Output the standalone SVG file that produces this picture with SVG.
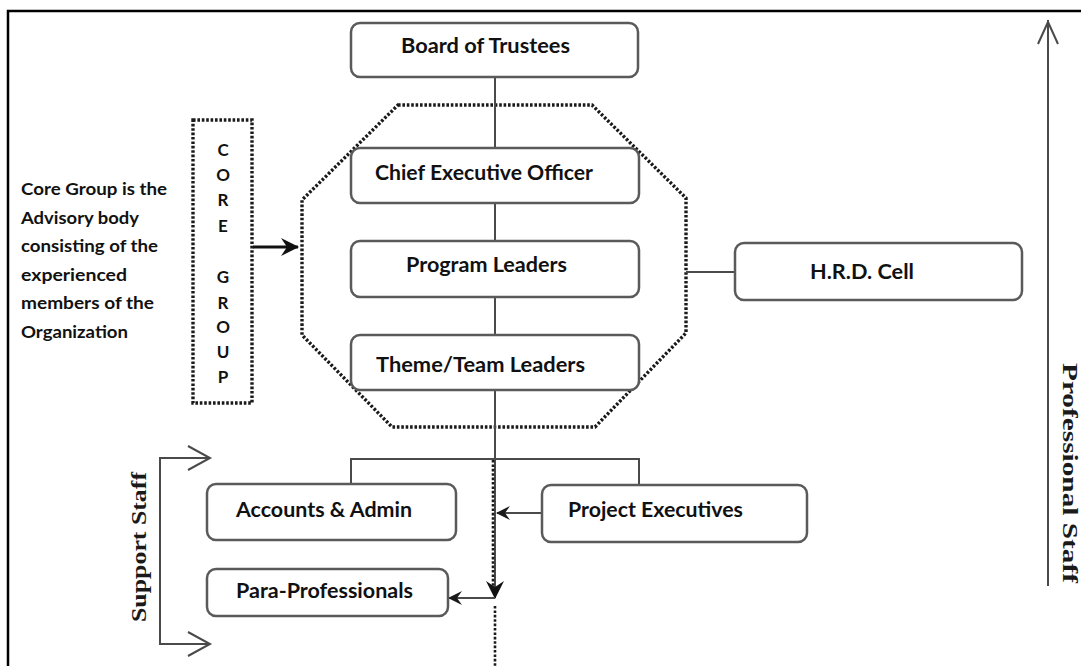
<svg xmlns="http://www.w3.org/2000/svg" width="1081" height="666" viewBox="0 0 1081 666">
  <style>
    .box { fill: #ffffff; stroke: #5a5a5a; stroke-width: 2.5; }
    .lbl { font-family: Lato, "Open Sans", "Liberation Sans", sans-serif; font-weight: bold; font-size: 20.5px; fill: #111111; }
    .note { font-family: Lato, "Open Sans", "Liberation Sans", sans-serif; font-weight: bold; font-size: 17.5px; fill: #111111; }
    .letter { font-family: Lato, "Open Sans", "Liberation Sans", sans-serif; font-weight: bold; font-size: 17px; fill: #111111; text-anchor: middle; }
    .side { font-family: "Liberation Serif", "DejaVu Serif", serif; font-weight: bold; font-size: 20px; fill: #1a1a1a; }
    .dots { fill: none; stroke: #1a1a1a; stroke-width: 3.4; stroke-dasharray: 2.6 1.8; }
    .wire { fill: none; stroke: #4a4a4a; stroke-width: 2; }
    .chev { fill: none; stroke: #4a4a4a; stroke-width: 2; stroke-linejoin: miter; }
  </style>
  <defs>
    <marker id="head" viewBox="0 0 14 14" refX="13" refY="7" markerWidth="14" markerHeight="14" markerUnits="userSpaceOnUse" orient="auto">
      <path d="M0,0 L14,7 L0,14 L5,7 Z" fill="#1a1a1a"/>
    </marker>
    <marker id="headBig" viewBox="0 0 18 18" refX="17" refY="9" markerWidth="18" markerHeight="18" markerUnits="userSpaceOnUse" orient="auto">
      <path d="M0,0 L18,9 L0,18 L6,9 Z" fill="#111111"/>
    </marker>
  </defs>

  <!-- page frame -->
  <path d="M8,666 V11 H1081" fill="none" stroke="#000000" stroke-width="2.5"/>

  <!-- core group boundary -->
  <g id="core-octagon">
    <polygon class="dots" points="398,105 592,105 686,198 686,333 595,427 392,427 302,335 302,200"/>
  </g>

  <!-- connectors -->
  <g id="connectors">
    <line class="wire" x1="495" y1="77" x2="495" y2="148"/>
    <line class="wire" x1="495" y1="203" x2="495" y2="241"/>
    <line class="wire" x1="495" y1="297" x2="495" y2="335"/>
    <line class="wire" x1="495" y1="390" x2="495" y2="598" marker-end="url(#headBig)"/>
    <line class="dots" x1="493" y1="460" x2="493" y2="588" style="stroke-width:2.6"/>
    <line class="dots" x1="495" y1="606" x2="495" y2="666" style="stroke-width:2.6"/>
    <polyline class="wire" points="351,484 351,459 639,459 639,485"/>
    <line class="wire" x1="542" y1="513" x2="497" y2="513" marker-end="url(#head)"/>
    <line class="wire" x1="495" y1="598" x2="449" y2="598" marker-end="url(#head)"/>
    <line class="wire" x1="686" y1="272" x2="735" y2="272"/>
    <line x1="253" y1="247" x2="298" y2="247" stroke="#111111" stroke-width="3" marker-end="url(#headBig)"/>
    <!-- support staff bracket -->
    <polyline class="wire" points="210,458 160,458 160,644 210,644"/>
    <polyline class="chev" points="188,446 210,458 188,470"/>
    <polyline class="chev" points="188,632 210,644 188,656"/>
    <!-- professional staff axis -->
    <line class="wire" x1="1048" y1="20" x2="1048" y2="586"/>
    <polyline class="chev" points="1038,44 1048,22 1058,44"/>
  </g>

  <g id="board">
    <rect class="box" x="351" y="23" width="287" height="54" rx="9"/>
    <text class="lbl" x="401" y="53" textLength="169" lengthAdjust="spacingAndGlyphs">Board of Trustees</text>
  </g>
  <g id="ceo">
    <rect class="box" x="351" y="148" width="288" height="55" rx="9"/>
    <text class="lbl" x="375" y="180" textLength="218" lengthAdjust="spacingAndGlyphs">Chief Executive Officer</text>
  </g>
  <g id="program-leaders">
    <rect class="box" x="351" y="241" width="288" height="56" rx="9"/>
    <text class="lbl" x="406" y="272" textLength="161" lengthAdjust="spacingAndGlyphs">Program Leaders</text>
  </g>
  <g id="team-leaders">
    <rect class="box" x="351" y="335" width="288" height="55" rx="9"/>
    <text class="lbl" x="376" y="372" textLength="209" lengthAdjust="spacingAndGlyphs">Theme/Team Leaders</text>
  </g>
  <g id="hrd-cell">
    <rect class="box" x="735" y="243" width="287" height="57" rx="9"/>
    <text class="lbl" x="810" y="279" textLength="104" lengthAdjust="spacingAndGlyphs">H.R.D. Cell</text>
  </g>
  <g id="accounts-admin">
    <rect class="box" x="207" y="484" width="249" height="56" rx="9"/>
    <text class="lbl" x="236" y="517" textLength="176" lengthAdjust="spacingAndGlyphs">Accounts &amp; Admin</text>
  </g>
  <g id="para-professionals">
    <rect class="box" x="207" y="569" width="241" height="47" rx="9"/>
    <text class="lbl" x="236" y="598" textLength="177" lengthAdjust="spacingAndGlyphs">Para-Professionals</text>
  </g>
  <g id="project-executives">
    <rect class="box" x="542" y="485" width="265" height="57" rx="9"/>
    <text class="lbl" x="568" y="517" textLength="175" lengthAdjust="spacingAndGlyphs">Project Executives</text>
  </g>

  <g id="core-group">
    <rect class="dots" x="193" y="120" width="59" height="283"/>
    <text class="letter" x="223" y="156">C</text>
    <text class="letter" x="223" y="181">O</text>
    <text class="letter" x="223" y="206">R</text>
    <text class="letter" x="223" y="232">E</text>
    <text class="letter" x="223" y="283">G</text>
    <text class="letter" x="223" y="309">R</text>
    <text class="letter" x="223" y="333">O</text>
    <text class="letter" x="223" y="358">U</text>
    <text class="letter" x="223" y="383">P</text>
  </g>

  <g id="core-note">
    <text class="note" x="21" y="195" textLength="146" lengthAdjust="spacingAndGlyphs">Core Group is the</text>
    <text class="note" x="21" y="224" textLength="118" lengthAdjust="spacingAndGlyphs">Advisory body</text>
    <text class="note" x="21" y="252" textLength="137" lengthAdjust="spacingAndGlyphs">consisting of the</text>
    <text class="note" x="21" y="281" textLength="106" lengthAdjust="spacingAndGlyphs">experienced</text>
    <text class="note" x="21" y="309" textLength="133" lengthAdjust="spacingAndGlyphs">members of the</text>
    <text class="note" x="21" y="338" textLength="107" lengthAdjust="spacingAndGlyphs">Organization</text>
  </g>

  <g id="support-staff">
    <text class="side" transform="translate(140,547) rotate(-90)" x="-75" y="6" textLength="150" lengthAdjust="spacingAndGlyphs">Support Staff</text>
  </g>
  <g id="professional-staff">
    <text class="side" transform="translate(1069,473) rotate(90)" x="-110" y="6" textLength="220" lengthAdjust="spacingAndGlyphs">Professional Staff</text>
  </g>
</svg>
